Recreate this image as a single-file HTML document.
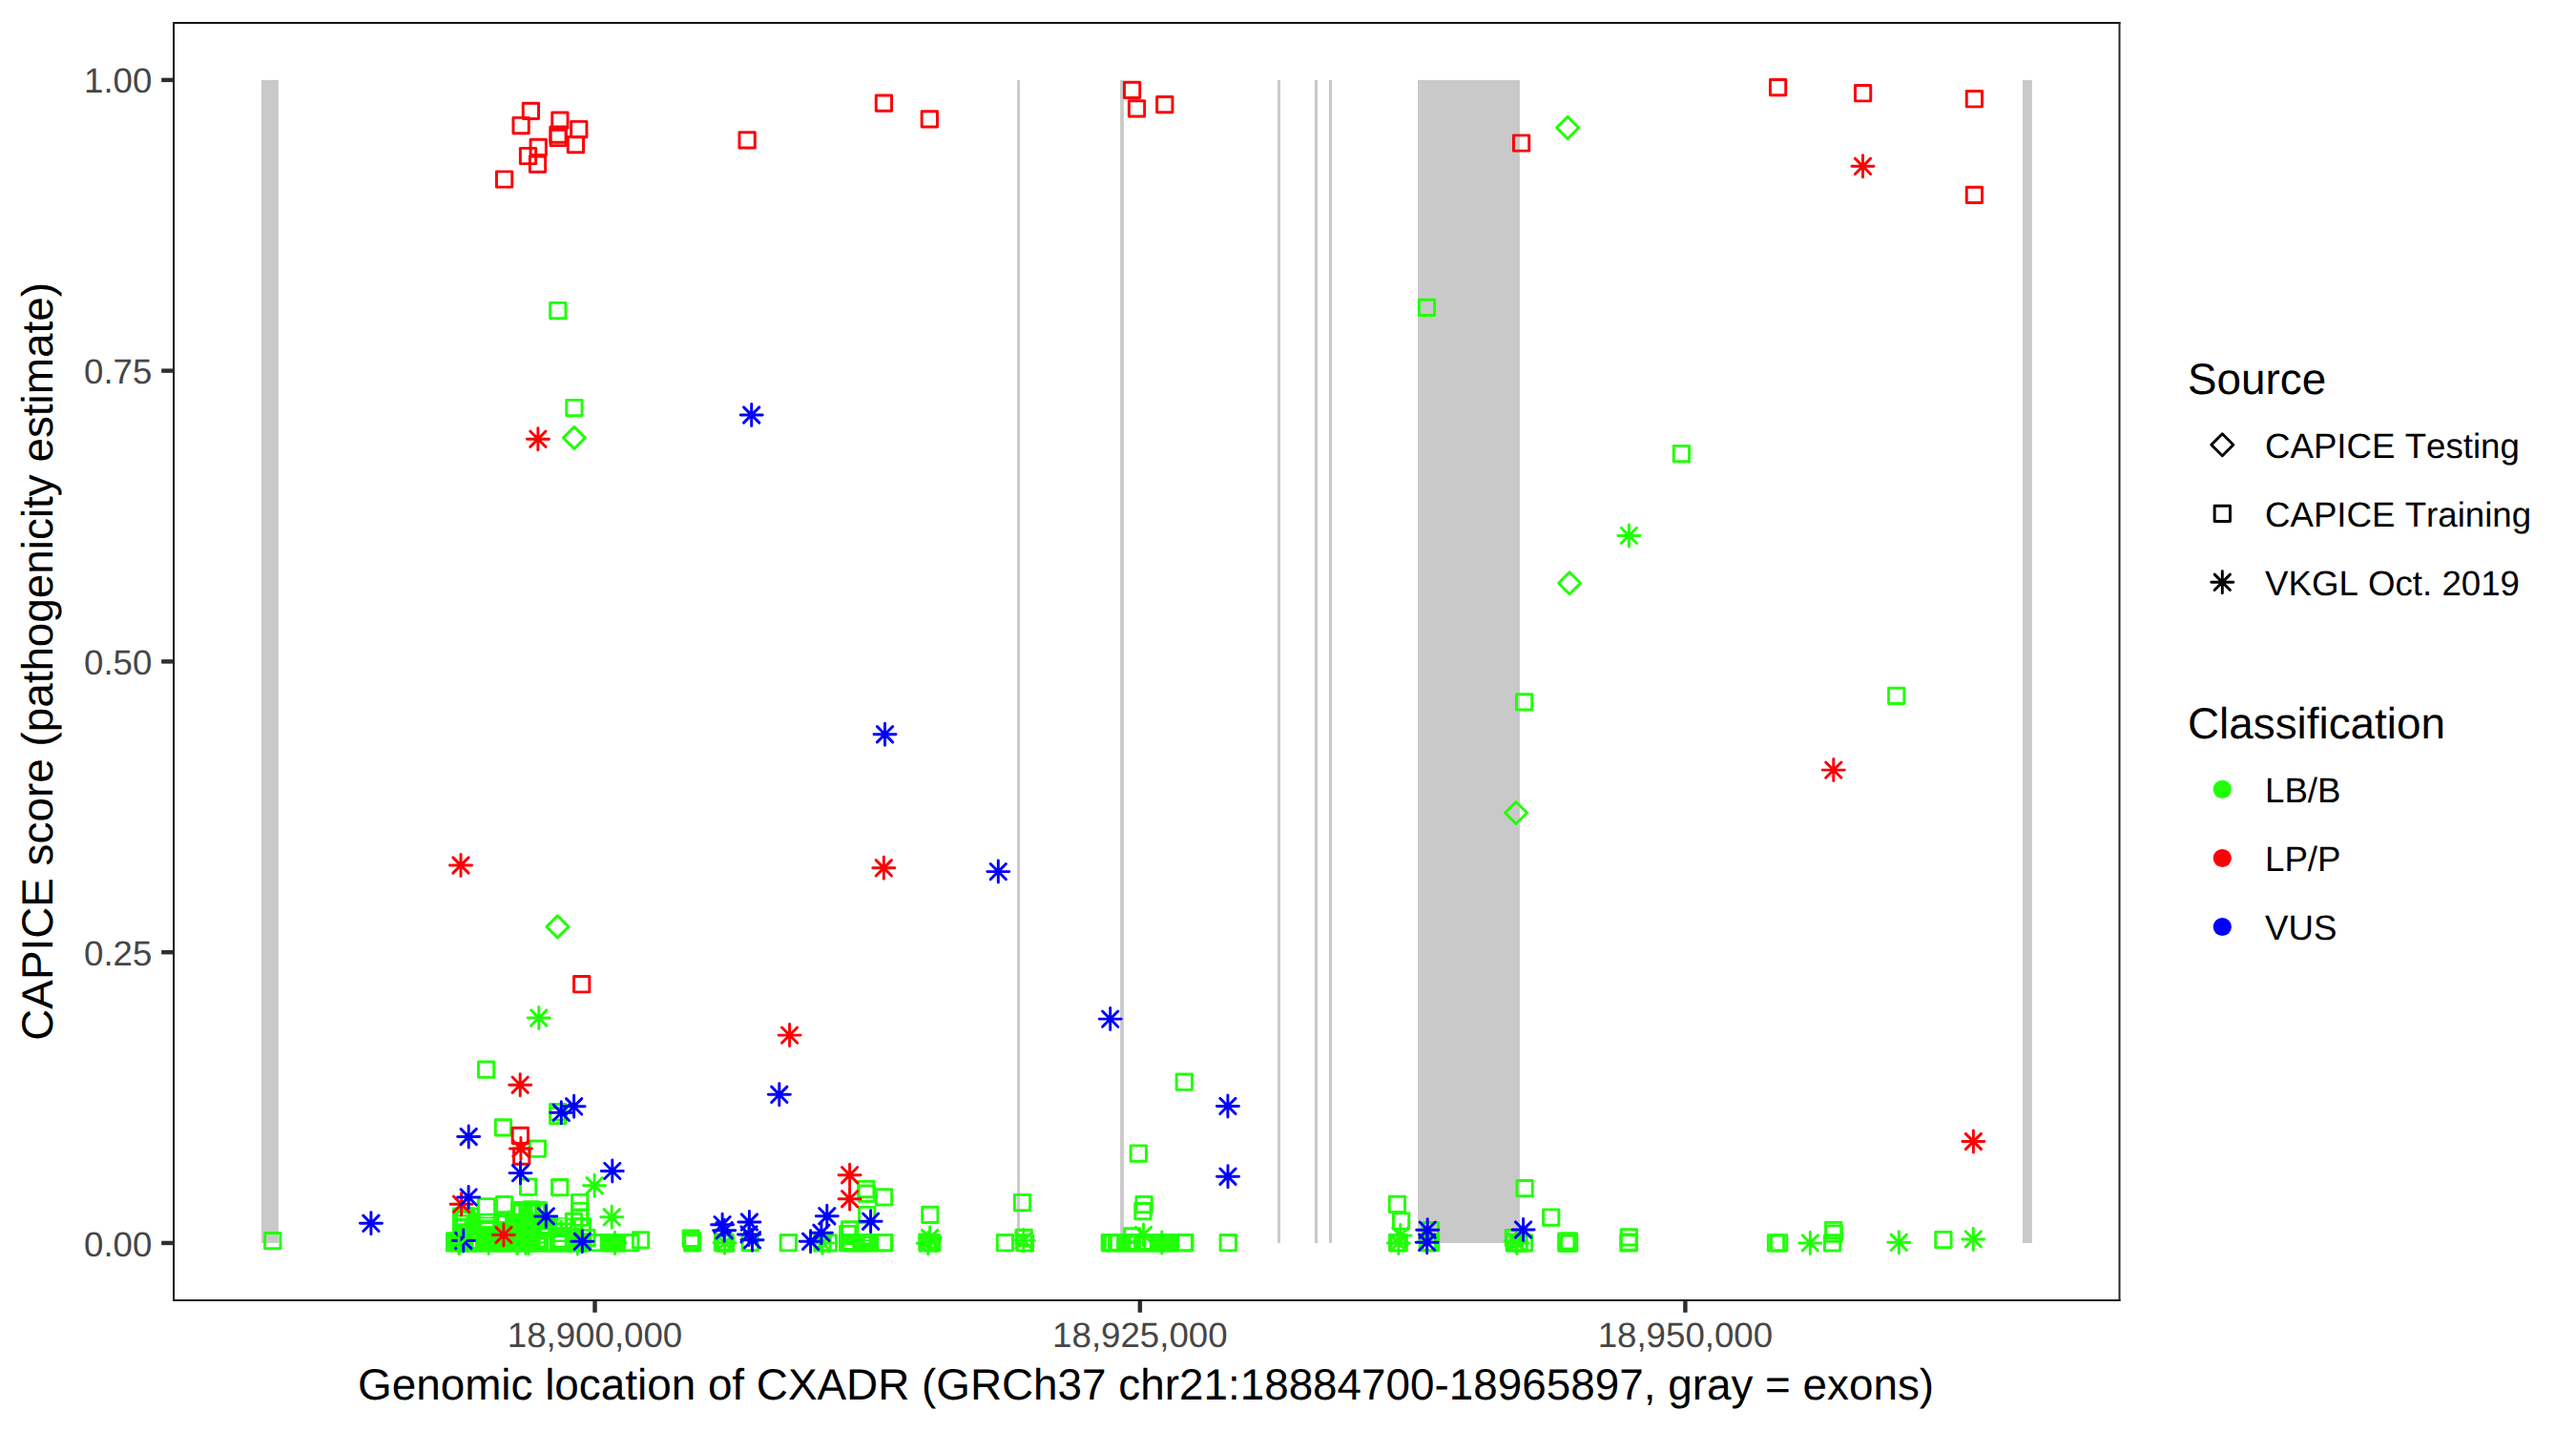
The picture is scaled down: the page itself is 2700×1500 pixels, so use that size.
<!DOCTYPE html>
<html lang="en"><head><meta charset="utf-8"><title>CAPICE score along CXADR</title>
<style>html,body{margin:0;padding:0;background:#fff}body{width:2700px;height:1500px;overflow:hidden}svg{display:block}text{font-family:"Liberation Sans",Arial,Helvetica,sans-serif;font-kerning:none;text-rendering:geometricPrecision}.tk{font-size:36.67px;fill:#464646}.ti{font-size:45.83px;fill:#000}.lg{font-size:36.67px;fill:#000}.pt{fill:none;stroke-width:2.95;stroke-linejoin:round;stroke-linecap:round}</style></head><body>
<svg width="2700" height="1500" viewBox="0 0 2700 1500">
<rect width="2700" height="1500" fill="#fff"/>
<g fill="#C9C9C9">
<rect x="274" y="83.86" width="17.9" height="1219.09"/>
<rect x="1066.05" y="83.86" width="2.9" height="1219.09"/>
<rect x="1174.1" y="83.86" width="3.8" height="1219.09"/>
<rect x="1339" y="83.86" width="3" height="1219.09"/>
<rect x="1377.9" y="83.86" width="3.15" height="1219.09"/>
<rect x="1393" y="83.86" width="3" height="1219.09"/>
<rect x="1486.05" y="83.86" width="106.9" height="1219.09"/>
<rect x="2120" y="83.86" width="9.9" height="1219.09"/>
</g>
<g fill="#21FF06">
<rect x="467" y="1291.3" width="30" height="21" rx="1.5"/>
<rect x="474" y="1266" width="22.5" height="34" rx="1.5"/>
<rect x="494" y="1272.5" width="40" height="39.8" rx="1.5"/>
<rect x="533.5" y="1261" width="14.5" height="51.3" rx="1.5"/>
<rect x="547.5" y="1258.2" width="18.5" height="54.1" rx="1.5"/>
<rect x="565.5" y="1259.6" width="8.7" height="52.7" rx="1.5"/>
<rect x="574" y="1277" width="8" height="35.3" rx="1.5"/>
<rect x="581.5" y="1286" width="16.5" height="26.3" rx="1.5"/>
<rect x="597.5" y="1292" width="20.5" height="20.3" rx="1.5"/>
<rect x="629.5" y="1293.1" width="26.6" height="19.2" rx="1.5"/>
<rect x="879.3" y="1293.1" width="41.2" height="19.2" rx="1.5"/>
<rect x="1153.8" y="1293.1" width="79.7" height="19.2" rx="1.5"/>
</g>
<g class="pt" stroke="#21FF06">
<rect x="468.46" y="1294.45" width="16.29" height="16.29"/>
<rect x="472.75" y="1294.45" width="16.29" height="16.29"/>
<rect x="477.06" y="1294.45" width="16.29" height="16.29"/>
<rect x="481.36" y="1294.45" width="16.29" height="16.29"/>
<rect x="485.66" y="1294.45" width="16.29" height="16.29"/>
<rect x="489.96" y="1294.45" width="16.29" height="16.29"/>
<rect x="494.25" y="1294.45" width="16.29" height="16.29"/>
<rect x="498.56" y="1294.45" width="16.29" height="16.29"/>
<rect x="502.86" y="1294.45" width="16.29" height="16.29"/>
<rect x="507.15" y="1294.45" width="16.29" height="16.29"/>
<rect x="511.46" y="1294.45" width="16.29" height="16.29"/>
<rect x="515.75" y="1294.45" width="16.29" height="16.29"/>
<rect x="520.06" y="1294.45" width="16.29" height="16.29"/>
<rect x="524.36" y="1294.45" width="16.29" height="16.29"/>
<rect x="528.65" y="1294.45" width="16.29" height="16.29"/>
<rect x="532.96" y="1294.45" width="16.29" height="16.29"/>
<rect x="537.25" y="1294.45" width="16.29" height="16.29"/>
<rect x="541.56" y="1294.45" width="16.29" height="16.29"/>
<rect x="545.86" y="1294.45" width="16.29" height="16.29"/>
<rect x="550.15" y="1294.45" width="16.29" height="16.29"/>
<rect x="554.46" y="1294.45" width="16.29" height="16.29"/>
<rect x="558.75" y="1294.45" width="16.29" height="16.29"/>
<rect x="563.06" y="1294.45" width="16.29" height="16.29"/>
<rect x="567.36" y="1294.45" width="16.29" height="16.29"/>
<rect x="571.65" y="1294.45" width="16.29" height="16.29"/>
<rect x="575.96" y="1294.45" width="16.29" height="16.29"/>
<rect x="580.25" y="1294.45" width="16.29" height="16.29"/>
<rect x="584.56" y="1294.45" width="16.29" height="16.29"/>
<rect x="588.86" y="1294.45" width="16.29" height="16.29"/>
<rect x="593.15" y="1294.45" width="16.29" height="16.29"/>
<rect x="597.46" y="1294.45" width="16.29" height="16.29"/>
<rect x="601.75" y="1294.45" width="16.29" height="16.29"/>
<rect x="475.46" y="1266.86" width="16.29" height="16.29"/>
<rect x="475.46" y="1272.36" width="16.29" height="16.29"/>
<rect x="475.46" y="1277.86" width="16.29" height="16.29"/>
<rect x="475.46" y="1283.36" width="16.29" height="16.29"/>
<rect x="475.46" y="1288.86" width="16.29" height="16.29"/>
<rect x="480.36" y="1266.86" width="16.29" height="16.29"/>
<rect x="480.36" y="1272.36" width="16.29" height="16.29"/>
<rect x="480.36" y="1277.86" width="16.29" height="16.29"/>
<rect x="480.36" y="1283.36" width="16.29" height="16.29"/>
<rect x="480.36" y="1288.86" width="16.29" height="16.29"/>
<rect x="484.86" y="1266.86" width="16.29" height="16.29"/>
<rect x="484.86" y="1272.36" width="16.29" height="16.29"/>
<rect x="484.86" y="1277.86" width="16.29" height="16.29"/>
<rect x="484.86" y="1283.36" width="16.29" height="16.29"/>
<rect x="484.86" y="1288.86" width="16.29" height="16.29"/>
<rect x="495.36" y="1273.36" width="16.29" height="16.29"/>
<rect x="495.36" y="1279.36" width="16.29" height="16.29"/>
<rect x="495.36" y="1285.36" width="16.29" height="16.29"/>
<rect x="495.36" y="1289.86" width="16.29" height="16.29"/>
<rect x="501.86" y="1273.36" width="16.29" height="16.29"/>
<rect x="501.86" y="1279.36" width="16.29" height="16.29"/>
<rect x="501.86" y="1285.36" width="16.29" height="16.29"/>
<rect x="501.86" y="1289.86" width="16.29" height="16.29"/>
<rect x="508.36" y="1273.36" width="16.29" height="16.29"/>
<rect x="508.36" y="1279.36" width="16.29" height="16.29"/>
<rect x="508.36" y="1285.36" width="16.29" height="16.29"/>
<rect x="508.36" y="1289.86" width="16.29" height="16.29"/>
<rect x="514.86" y="1273.36" width="16.29" height="16.29"/>
<rect x="514.86" y="1279.36" width="16.29" height="16.29"/>
<rect x="514.86" y="1285.36" width="16.29" height="16.29"/>
<rect x="514.86" y="1289.86" width="16.29" height="16.29"/>
<rect x="521.36" y="1273.36" width="16.29" height="16.29"/>
<rect x="521.36" y="1279.36" width="16.29" height="16.29"/>
<rect x="521.36" y="1285.36" width="16.29" height="16.29"/>
<rect x="521.36" y="1289.86" width="16.29" height="16.29"/>
<rect x="527.86" y="1273.36" width="16.29" height="16.29"/>
<rect x="527.86" y="1279.36" width="16.29" height="16.29"/>
<rect x="527.86" y="1285.36" width="16.29" height="16.29"/>
<rect x="527.86" y="1289.86" width="16.29" height="16.29"/>
<rect x="534.36" y="1260.65" width="16.29" height="16.29"/>
<rect x="534.36" y="1266.86" width="16.29" height="16.29"/>
<rect x="534.36" y="1272.86" width="16.29" height="16.29"/>
<rect x="534.36" y="1278.86" width="16.29" height="16.29"/>
<rect x="534.36" y="1284.86" width="16.29" height="16.29"/>
<rect x="534.36" y="1289.86" width="16.29" height="16.29"/>
<rect x="538.86" y="1260.65" width="16.29" height="16.29"/>
<rect x="538.86" y="1266.86" width="16.29" height="16.29"/>
<rect x="538.86" y="1272.86" width="16.29" height="16.29"/>
<rect x="538.86" y="1278.86" width="16.29" height="16.29"/>
<rect x="538.86" y="1284.86" width="16.29" height="16.29"/>
<rect x="538.86" y="1289.86" width="16.29" height="16.29"/>
<rect x="543.36" y="1260.65" width="16.29" height="16.29"/>
<rect x="543.36" y="1266.86" width="16.29" height="16.29"/>
<rect x="543.36" y="1272.86" width="16.29" height="16.29"/>
<rect x="543.36" y="1278.86" width="16.29" height="16.29"/>
<rect x="543.36" y="1284.86" width="16.29" height="16.29"/>
<rect x="543.36" y="1289.86" width="16.29" height="16.29"/>
<rect x="547.86" y="1260.65" width="16.29" height="16.29"/>
<rect x="547.86" y="1266.86" width="16.29" height="16.29"/>
<rect x="547.86" y="1272.86" width="16.29" height="16.29"/>
<rect x="547.86" y="1278.86" width="16.29" height="16.29"/>
<rect x="547.86" y="1284.86" width="16.29" height="16.29"/>
<rect x="547.86" y="1289.86" width="16.29" height="16.29"/>
<rect x="552.36" y="1260.65" width="16.29" height="16.29"/>
<rect x="552.36" y="1266.86" width="16.29" height="16.29"/>
<rect x="552.36" y="1272.86" width="16.29" height="16.29"/>
<rect x="552.36" y="1278.86" width="16.29" height="16.29"/>
<rect x="552.36" y="1284.86" width="16.29" height="16.29"/>
<rect x="552.36" y="1289.86" width="16.29" height="16.29"/>
<rect x="556.36" y="1260.65" width="16.29" height="16.29"/>
<rect x="556.36" y="1266.86" width="16.29" height="16.29"/>
<rect x="556.36" y="1272.86" width="16.29" height="16.29"/>
<rect x="556.36" y="1278.86" width="16.29" height="16.29"/>
<rect x="556.36" y="1284.86" width="16.29" height="16.29"/>
<rect x="556.36" y="1289.86" width="16.29" height="16.29"/>
<rect x="556.36" y="1261.86" width="16.29" height="16.29"/>
<rect x="556.36" y="1268.86" width="16.29" height="16.29"/>
<rect x="560.86" y="1278.86" width="16.29" height="16.29"/>
<rect x="560.86" y="1283.86" width="16.29" height="16.29"/>
<rect x="560.86" y="1288.86" width="16.29" height="16.29"/>
<rect x="565.86" y="1278.86" width="16.29" height="16.29"/>
<rect x="565.86" y="1283.86" width="16.29" height="16.29"/>
<rect x="565.86" y="1288.86" width="16.29" height="16.29"/>
<rect x="571.86" y="1277.86" width="16.29" height="16.29"/>
<rect x="571.86" y="1282.86" width="16.29" height="16.29"/>
<rect x="571.86" y="1288.36" width="16.29" height="16.29"/>
<rect x="577.36" y="1277.86" width="16.29" height="16.29"/>
<rect x="577.36" y="1282.86" width="16.29" height="16.29"/>
<rect x="577.36" y="1288.36" width="16.29" height="16.29"/>
<rect x="582.36" y="1277.86" width="16.29" height="16.29"/>
<rect x="582.36" y="1282.86" width="16.29" height="16.29"/>
<rect x="582.36" y="1288.36" width="16.29" height="16.29"/>
<rect x="587.86" y="1287.86" width="16.29" height="16.29"/>
<rect x="592.36" y="1288.86" width="16.29" height="16.29"/>
<rect x="606.86" y="1289.36" width="16.29" height="16.29"/>
<rect x="618.96" y="1294.56" width="16.29" height="16.29"/>
<rect x="630.15" y="1294.56" width="16.29" height="16.29"/>
<rect x="634.86" y="1294.56" width="16.29" height="16.29"/>
<rect x="638.36" y="1294.56" width="16.29" height="16.29"/>
<rect x="652.65" y="1294.56" width="16.29" height="16.29"/>
<rect x="716.06" y="1290.06" width="16.29" height="16.29"/>
<rect x="717.15" y="1292.36" width="16.29" height="16.29"/>
<rect x="717.65" y="1294.65" width="16.29" height="16.29"/>
<rect x="749.36" y="1294.56" width="16.29" height="16.29"/>
<rect x="751.36" y="1293.86" width="16.29" height="16.29"/>
<rect x="752.36" y="1295.06" width="16.29" height="16.29"/>
<rect x="778.06" y="1294.36" width="16.29" height="16.29"/>
<rect x="818.15" y="1294.56" width="16.29" height="16.29"/>
<rect x="853.96" y="1294.76" width="16.29" height="16.29"/>
<rect x="860.25" y="1294.76" width="16.29" height="16.29"/>
<rect x="880.56" y="1294.56" width="16.29" height="16.29"/>
<rect x="886.86" y="1294.56" width="16.29" height="16.29"/>
<rect x="893.06" y="1294.56" width="16.29" height="16.29"/>
<rect x="899.36" y="1294.56" width="16.29" height="16.29"/>
<rect x="903.36" y="1294.56" width="16.29" height="16.29"/>
<rect x="918.15" y="1294.56" width="16.29" height="16.29"/>
<rect x="918.75" y="1294.56" width="16.29" height="16.29"/>
<rect x="963.75" y="1293.86" width="16.29" height="16.29"/>
<rect x="966.36" y="1294.45" width="16.29" height="16.29"/>
<rect x="968.46" y="1294.76" width="16.29" height="16.29"/>
<rect x="1045.26" y="1294.56" width="16.29" height="16.29"/>
<rect x="1065.06" y="1289.26" width="16.29" height="16.29"/>
<rect x="1066.26" y="1294.76" width="16.29" height="16.29"/>
<rect x="1155.26" y="1294.56" width="16.29" height="16.29"/>
<rect x="1160.36" y="1294.56" width="16.29" height="16.29"/>
<rect x="1166.36" y="1294.56" width="16.29" height="16.29"/>
<rect x="1172.86" y="1294.56" width="16.29" height="16.29"/>
<rect x="1178.86" y="1294.56" width="16.29" height="16.29"/>
<rect x="1183.86" y="1294.56" width="16.29" height="16.29"/>
<rect x="1188.86" y="1294.56" width="16.29" height="16.29"/>
<rect x="1194.86" y="1294.56" width="16.29" height="16.29"/>
<rect x="1200.86" y="1294.56" width="16.29" height="16.29"/>
<rect x="1206.86" y="1294.56" width="16.29" height="16.29"/>
<rect x="1212.86" y="1294.56" width="16.29" height="16.29"/>
<rect x="1218.36" y="1294.56" width="16.29" height="16.29"/>
<rect x="1233.06" y="1294.56" width="16.29" height="16.29"/>
<rect x="1233.76" y="1294.56" width="16.29" height="16.29"/>
<rect x="1279.15" y="1294.56" width="16.29" height="16.29"/>
<rect x="1456.56" y="1294.56" width="16.29" height="16.29"/>
<rect x="1458.06" y="1294.56" width="16.29" height="16.29"/>
<rect x="1488.26" y="1294.36" width="16.29" height="16.29"/>
<rect x="1491.36" y="1294.36" width="16.29" height="16.29"/>
<rect x="1578.36" y="1289.36" width="16.29" height="16.29"/>
<rect x="1579.06" y="1294.76" width="16.29" height="16.29"/>
<rect x="1583.86" y="1294.76" width="16.29" height="16.29"/>
<rect x="1589.36" y="1294.76" width="16.29" height="16.29"/>
<rect x="1633.86" y="1292.86" width="16.29" height="16.29"/>
<rect x="1636.36" y="1292.86" width="16.29" height="16.29"/>
<rect x="1633.86" y="1294.95" width="16.29" height="16.29"/>
<rect x="1636.36" y="1294.95" width="16.29" height="16.29"/>
<rect x="1698.86" y="1293.95" width="16.29" height="16.29"/>
<rect x="1699.06" y="1294.76" width="16.29" height="16.29"/>
<rect x="1853.36" y="1294.76" width="16.29" height="16.29"/>
<rect x="1856.45" y="1294.76" width="16.29" height="16.29"/>
<rect x="1912.45" y="1294.65" width="16.29" height="16.29"/>
<rect x="576.65" y="317.36" width="16.29" height="16.29"/>
<rect x="593.75" y="419.36" width="16.29" height="16.29"/>
<rect x="1487.36" y="314.25" width="16.29" height="16.29"/>
<rect x="1754.26" y="467.36" width="16.29" height="16.29"/>
<rect x="1589.45" y="727.75" width="16.29" height="16.29"/>
<rect x="1979.56" y="721.15" width="16.29" height="16.29"/>
<rect x="501.46" y="1112.95" width="16.29" height="16.29"/>
<rect x="576.56" y="1157.56" width="16.29" height="16.29"/>
<rect x="576.56" y="1161.36" width="16.29" height="16.29"/>
<rect x="519.25" y="1173.65" width="16.29" height="16.29"/>
<rect x="555.25" y="1196.06" width="16.29" height="16.29"/>
<rect x="545.46" y="1236.06" width="16.29" height="16.29"/>
<rect x="578.56" y="1236.45" width="16.29" height="16.29"/>
<rect x="599.56" y="1252.36" width="16.29" height="16.29"/>
<rect x="599.56" y="1261.36" width="16.29" height="16.29"/>
<rect x="599.56" y="1267.86" width="16.29" height="16.29"/>
<rect x="593.36" y="1272.26" width="16.29" height="16.29"/>
<rect x="602.25" y="1277.65" width="16.29" height="16.29"/>
<rect x="520.46" y="1254.45" width="16.29" height="16.29"/>
<rect x="501.36" y="1256.65" width="16.29" height="16.29"/>
<rect x="899.65" y="1238.36" width="16.29" height="16.29"/>
<rect x="900.15" y="1243.06" width="16.29" height="16.29"/>
<rect x="918.36" y="1246.76" width="16.29" height="16.29"/>
<rect x="900.56" y="1265.36" width="16.29" height="16.29"/>
<rect x="882.56" y="1280.65" width="16.29" height="16.29"/>
<rect x="880.56" y="1285.36" width="16.29" height="16.29"/>
<rect x="966.65" y="1265.26" width="16.29" height="16.29"/>
<rect x="1063.36" y="1252.36" width="16.29" height="16.29"/>
<rect x="1190.95" y="1254.45" width="16.29" height="16.29"/>
<rect x="1189.76" y="1261.45" width="16.29" height="16.29"/>
<rect x="1178.76" y="1287.65" width="16.29" height="16.29"/>
<rect x="1233.15" y="1126.06" width="16.29" height="16.29"/>
<rect x="1185.15" y="1200.86" width="16.29" height="16.29"/>
<rect x="1456.26" y="1254.26" width="16.29" height="16.29"/>
<rect x="1460.45" y="1271.86" width="16.29" height="16.29"/>
<rect x="1491.36" y="1281.45" width="16.29" height="16.29"/>
<rect x="1589.95" y="1237.45" width="16.29" height="16.29"/>
<rect x="1617.56" y="1267.86" width="16.29" height="16.29"/>
<rect x="1699.26" y="1288.76" width="16.29" height="16.29"/>
<rect x="1913.56" y="1281.36" width="16.29" height="16.29"/>
<rect x="1914.15" y="1284.86" width="16.29" height="16.29"/>
<rect x="2028.76" y="1291.36" width="16.29" height="16.29"/>
<rect x="277.66" y="1292.45" width="16.29" height="16.29"/>
<rect x="663.36" y="1291.65" width="16.29" height="16.29"/>
</g>
<g fill="#fff">
<rect x="504" y="1258.2" width="13.1" height="13.2"/>
<rect x="522.2" y="1256" width="12.8" height="12.6"/>
<rect x="480" y="1272" width="10" height="1"/>
<rect x="480" y="1275.6" width="8.5" height="1.2"/>
<rect x="480" y="1280.4" width="6.5" height="1.9"/>
<rect x="503.8" y="1274.3" width="13" height="1.2"/>
<rect x="503.8" y="1277.4" width="13" height="1.2"/>
<rect x="505" y="1283.2" width="11" height="1.9"/>
<rect x="523" y="1276" width="6" height="4"/>
<rect x="540.2" y="1264.6" width="3.2" height="6.9"/>
<rect x="558.5" y="1264.6" width="1.5" height="6.9"/>
<rect x="567.5" y="1263.2" width="1.3" height="8.3"/>
<rect x="496.3" y="1294" width="1.7" height="13"/>
<rect x="585.5" y="1277.5" width="6.5" height="1.5"/>
<rect x="568" y="1289.6" width="6.3" height="1.2"/>
<rect x="566.8" y="1299.5" width="3.2" height="1.7"/>
<rect x="566.8" y="1303.3" width="3.2" height="2.2"/>
<rect x="581.7" y="1297" width="10" height="2.5"/>
<rect x="581.7" y="1302" width="10" height="3.7"/>
<rect x="575.2" y="1296.5" width="0.6" height="13.5"/>
<rect x="884" y="1287.8" width="3" height="3.7"/>
<rect x="885.6" y="1305" width="7.8" height="3"/>
<rect x="906.8" y="1297.9" width="3.8" height="1.5"/>
<rect x="906.8" y="1301" width="3.8" height="1.5"/>
<rect x="1159.9" y="1296.5" width="1.2" height="12.5"/>
<rect x="1165.8" y="1296.3" width="4.3" height="12.7"/>
<rect x="1185.4" y="1297" width="2.7" height="3.1"/>
<rect x="1185.4" y="1304.1" width="2.7" height="3.9"/>
<rect x="1196.3" y="1297.8" width="2" height="10.2"/>
<rect x="1201.4" y="1297.8" width="3.5" height="10.2"/>
</g>
<g class="pt" stroke="#FB0207">
<rect x="548.25" y="108.16" width="16.29" height="16.29"/>
<rect x="537.96" y="123.36" width="16.29" height="16.29"/>
<rect x="578.75" y="117.95" width="16.29" height="16.29"/>
<rect x="598.65" y="127.36" width="16.29" height="16.29"/>
<rect x="576.86" y="133.05" width="16.29" height="16.29"/>
<rect x="577.06" y="136.35" width="16.29" height="16.29"/>
<rect x="595.25" y="143.55" width="16.29" height="16.29"/>
<rect x="556.06" y="146.25" width="16.29" height="16.29"/>
<rect x="545.36" y="155.35" width="16.29" height="16.29"/>
<rect x="555.36" y="163.95" width="16.29" height="16.29"/>
<rect x="520.46" y="179.85" width="16.29" height="16.29"/>
<rect x="774.96" y="138.66" width="16.29" height="16.29"/>
<rect x="918.25" y="99.95" width="16.29" height="16.29"/>
<rect x="966.15" y="116.66" width="16.29" height="16.29"/>
<rect x="1178.45" y="86.16" width="16.29" height="16.29"/>
<rect x="1183.36" y="105.76" width="16.29" height="16.29"/>
<rect x="1212.65" y="101.41" width="16.29" height="16.29"/>
<rect x="1586.45" y="141.85" width="16.29" height="16.29"/>
<rect x="1855.45" y="83.45" width="16.29" height="16.29"/>
<rect x="1944.45" y="89.56" width="16.29" height="16.29"/>
<rect x="2061.26" y="95.56" width="16.29" height="16.29"/>
<rect x="2061.26" y="196.25" width="16.29" height="16.29"/>
<rect x="601.56" y="1023.56" width="16.29" height="16.29"/>
<rect x="537.15" y="1182.15" width="16.29" height="16.29"/>
<rect x="538.56" y="1203.86" width="16.29" height="16.29"/>
</g>
<g class="pt" stroke="#21FF06">
<path d="M1631.69 133.9L1643.2 122.39L1654.71 133.9L1643.2 145.41Z"/>
<path d="M590.39 458.9L601.9 447.39L613.41 458.9L601.9 470.41Z"/>
<path d="M1633.59 611.2L1645.1 599.69L1656.61 611.2L1645.1 622.71Z"/>
<path d="M1577.49 852L1589 840.49L1600.51 852L1589 863.51Z"/>
<path d="M572.89 971.4L584.4 959.89L595.91 971.4L584.4 982.91Z"/>
<path d="M1695.89 561.4H1718.91M1707.4 549.89V572.91M1699.26 553.26L1715.54 569.54M1699.26 569.54L1715.54 553.26"/>
<path d="M553.29 1067H576.31M564.8 1055.49V1078.51M556.66 1058.86L572.94 1075.14M556.66 1075.14L572.94 1058.86"/>
<path d="M611.59 1242.7H634.61M623.1 1231.19V1254.21M614.96 1234.56L631.24 1250.84M614.96 1250.84L631.24 1234.56"/>
<path d="M629.69 1275.8H652.71M641.2 1264.29V1287.31M633.06 1267.66L649.34 1283.94M633.06 1283.94L649.34 1267.66"/>
<path d="M469.59 1302.9H492.61M481.1 1291.39V1314.41M472.96 1294.76L489.24 1311.04M472.96 1311.04L489.24 1294.76"/>
<path d="M500.59 1302.9H523.61M512.1 1291.39V1314.41M503.96 1294.76L520.24 1311.04M503.96 1311.04L520.24 1294.76"/>
<path d="M530.69 1302.9H553.71M542.2 1291.39V1314.41M534.06 1294.76L550.34 1311.04M534.06 1311.04L550.34 1294.76"/>
<path d="M539.29 1302.9H562.31M550.8 1291.39V1314.41M542.66 1294.76L558.94 1311.04M542.66 1311.04L558.94 1294.76"/>
<path d="M542.39 1302.9H565.41M553.9 1291.39V1314.41M545.76 1294.76L562.04 1311.04M545.76 1311.04L562.04 1294.76"/>
<path d="M593.69 1303.5H616.71M605.2 1291.99V1315.01M597.06 1295.36L613.34 1311.64M597.06 1311.64L613.34 1295.36"/>
<path d="M632.99 1302.9H656.01M644.5 1291.39V1314.41M636.36 1294.76L652.64 1311.04M636.36 1311.04L652.64 1294.76"/>
<path d="M748.09 1302.7H771.11M759.6 1291.19V1314.21M751.46 1294.56L767.74 1310.84M751.46 1310.84L767.74 1294.56"/>
<path d="M850.59 1302.9H873.61M862.1 1291.39V1314.41M853.96 1294.76L870.24 1311.04M853.96 1311.04L870.24 1294.76"/>
<path d="M963.09 1297.5H986.11M974.6 1285.99V1309.01M966.46 1289.36L982.74 1305.64M966.46 1305.64L982.74 1289.36"/>
<path d="M961.19 1303.3H984.21M972.7 1291.79V1314.81M964.56 1295.16L980.84 1311.44M964.56 1311.44L980.84 1295.16"/>
<path d="M1061.29 1300.1H1084.31M1072.8 1288.59V1311.61M1064.66 1291.96L1080.94 1308.24M1064.66 1308.24L1080.94 1291.96"/>
<path d="M1186.99 1294.4H1210.01M1198.5 1282.89V1305.91M1190.36 1286.26L1206.64 1302.54M1190.36 1302.54L1206.64 1286.26"/>
<path d="M1206.29 1302.5H1229.31M1217.8 1290.99V1314.01M1209.66 1294.36L1225.94 1310.64M1209.66 1310.64L1225.94 1294.36"/>
<path d="M1456.29 1295.1H1479.31M1467.8 1283.59V1306.61M1459.66 1286.96L1475.94 1303.24M1459.66 1303.24L1475.94 1286.96"/>
<path d="M1454.29 1302.9H1477.31M1465.8 1291.39V1314.41M1457.66 1294.76L1473.94 1311.04M1457.66 1311.04L1473.94 1294.76"/>
<path d="M1577.29 1300.9H1600.31M1588.8 1289.39V1312.41M1580.66 1292.76L1596.94 1309.04M1580.66 1309.04L1596.94 1292.76"/>
<path d="M1578.49 1303H1601.51M1590 1291.49V1314.51M1581.86 1294.86L1598.14 1311.14M1581.86 1311.14L1598.14 1294.86"/>
<path d="M1885.79 1302.9H1908.81M1897.3 1291.39V1314.41M1889.16 1294.76L1905.44 1311.04M1889.16 1311.04L1905.44 1294.76"/>
<path d="M1978.79 1302.3H2001.81M1990.3 1290.79V1313.81M1982.16 1294.16L1998.44 1310.44M1982.16 1310.44L1998.44 1294.16"/>
<path d="M2056.79 1298.9H2079.81M2068.3 1287.39V1310.41M2060.16 1290.76L2076.44 1307.04M2060.16 1307.04L2076.44 1290.76"/>
</g>
<g class="pt" stroke="#FB0207">
<path d="M1940.99 174.3H1964.01M1952.5 162.79V185.81M1944.36 166.16L1960.64 182.44M1944.36 182.44L1960.64 166.16"/>
<path d="M552.39 460.2H575.41M563.9 448.69V471.71M555.76 452.06L572.04 468.34M555.76 468.34L572.04 452.06"/>
<path d="M1910.29 807.1H1933.31M1921.8 795.59V818.61M1913.66 798.96L1929.94 815.24M1913.66 815.24L1929.94 798.96"/>
<path d="M471.49 907H494.51M483 895.49V918.51M474.86 898.86L491.14 915.14M474.86 915.14L491.14 898.86"/>
<path d="M914.79 909.8H937.81M926.3 898.29V921.31M918.16 901.66L934.44 917.94M918.16 917.94L934.44 901.66"/>
<path d="M816.09 1085.1H839.11M827.6 1073.59V1096.61M819.46 1076.96L835.74 1093.24M819.46 1093.24L835.74 1076.96"/>
<path d="M533.69 1137.2H556.71M545.2 1125.69V1148.71M537.06 1129.06L553.34 1145.34M537.06 1145.34L553.34 1129.06"/>
<path d="M534.39 1204H557.41M545.9 1192.49V1215.51M537.76 1195.86L554.04 1212.14M537.76 1212.14L554.04 1195.86"/>
<path d="M472.09 1262.3H495.11M483.6 1250.79V1273.81M475.46 1254.16L491.74 1270.44M475.46 1270.44L491.74 1254.16"/>
<path d="M516.39 1294.5H539.41M527.9 1282.99V1306.01M519.76 1286.36L536.04 1302.64M519.76 1302.64L536.04 1286.36"/>
<path d="M879.09 1231.7H902.11M890.6 1220.19V1243.21M882.46 1223.56L898.74 1239.84M882.46 1239.84L898.74 1223.56"/>
<path d="M879.09 1256.7H902.11M890.6 1245.19V1268.21M882.46 1248.56L898.74 1264.84M882.46 1264.84L898.74 1248.56"/>
<path d="M2056.89 1196.5H2079.91M2068.4 1184.99V1208.01M2060.26 1188.36L2076.54 1204.64M2060.26 1204.64L2076.54 1188.36"/>
</g>
<g class="pt" stroke="#0000FF">
<path d="M776.19 435H799.21M787.7 423.49V446.51M779.56 426.86L795.84 443.14M779.56 443.14L795.84 426.86"/>
<path d="M915.99 769.7H939.01M927.5 758.19V781.21M919.36 761.56L935.64 777.84M919.36 777.84L935.64 761.56"/>
<path d="M1034.79 913.6H1057.81M1046.3 902.09V925.11M1038.16 905.46L1054.44 921.74M1038.16 921.74L1054.44 905.46"/>
<path d="M576.79 1166.3H599.81M588.3 1154.79V1177.81M580.16 1158.16L596.44 1174.44M580.16 1174.44L596.44 1158.16"/>
<path d="M590.09 1159.8H613.11M601.6 1148.29V1171.31M593.46 1151.66L609.74 1167.94M593.46 1167.94L609.74 1151.66"/>
<path d="M479.69 1191.5H502.71M491.2 1179.99V1203.01M483.06 1183.36L499.34 1199.64M483.06 1199.64L499.34 1183.36"/>
<path d="M533.99 1229.6H557.01M545.5 1218.09V1241.11M537.36 1221.46L553.64 1237.74M537.36 1237.74L553.64 1221.46"/>
<path d="M630.29 1227.4H653.31M641.8 1215.89V1238.91M633.66 1219.26L649.94 1235.54M633.66 1235.54L649.94 1219.26"/>
<path d="M479.59 1254.9H502.61M491.1 1243.39V1266.41M482.96 1246.76L499.24 1263.04M482.96 1263.04L499.24 1246.76"/>
<path d="M560.79 1274.9H583.81M572.3 1263.39V1286.41M564.16 1266.76L580.44 1283.04M564.16 1283.04L580.44 1266.76"/>
<path d="M598.79 1301.3H621.81M610.3 1289.79V1312.81M602.16 1293.16L618.44 1309.44M602.16 1309.44L618.44 1293.16"/>
<path d="M377.39 1282.3H400.41M388.9 1270.79V1293.81M380.76 1274.16L397.04 1290.44M380.76 1290.44L397.04 1274.16"/>
<path d="M745.59 1283.7H768.61M757.1 1272.19V1295.21M748.96 1275.56L765.24 1291.84M748.96 1291.84L765.24 1275.56"/>
<path d="M747.69 1289.8H770.71M759.2 1278.29V1301.31M751.06 1281.66L767.34 1297.94M751.06 1297.94L767.34 1281.66"/>
<path d="M773.89 1281H796.91M785.4 1269.49V1292.51M777.26 1272.86L793.54 1289.14M777.26 1289.14L793.54 1272.86"/>
<path d="M773.49 1293.9H796.51M785 1282.39V1305.41M776.86 1285.76L793.14 1302.04M776.86 1302.04L793.14 1285.76"/>
<path d="M776.99 1299.8H800.01M788.5 1288.29V1311.31M780.36 1291.66L796.64 1307.94M780.36 1307.94L796.64 1291.66"/>
<path d="M838.09 1301.3H861.11M849.6 1289.79V1312.81M841.46 1293.16L857.74 1309.44M841.46 1309.44L857.74 1293.16"/>
<path d="M855.29 1274.7H878.31M866.8 1263.19V1286.21M858.66 1266.56L874.94 1282.84M858.66 1282.84L874.94 1266.56"/>
<path d="M849.39 1292.3H872.41M860.9 1280.79V1303.81M852.76 1284.16L869.04 1300.44M852.76 1300.44L869.04 1284.16"/>
<path d="M901.09 1280.2H924.11M912.6 1268.69V1291.71M904.46 1272.06L920.74 1288.34M904.46 1288.34L920.74 1272.06"/>
<path d="M805.29 1147.3H828.31M816.8 1135.79V1158.81M808.66 1139.16L824.94 1155.44M808.66 1155.44L824.94 1139.16"/>
<path d="M1152.19 1068.1H1175.21M1163.7 1056.59V1079.61M1155.56 1059.96L1171.84 1076.24M1155.56 1076.24L1171.84 1059.96"/>
<path d="M1275.39 1159.4H1298.41M1286.9 1147.89V1170.91M1278.76 1151.26L1295.04 1167.54M1278.76 1167.54L1295.04 1151.26"/>
<path d="M1275.49 1233.2H1298.51M1287 1221.69V1244.71M1278.86 1225.06L1295.14 1241.34M1278.86 1241.34L1295.14 1225.06"/>
<path d="M1484.69 1289.2H1507.71M1496.2 1277.69V1300.71M1488.06 1281.06L1504.34 1297.34M1488.06 1297.34L1504.34 1281.06"/>
<path d="M1484.19 1302.3H1507.21M1495.7 1290.79V1313.81M1487.56 1294.16L1503.84 1310.44M1487.56 1310.44L1503.84 1294.16"/>
<path d="M1585.09 1289H1608.11M1596.6 1277.49V1300.51M1588.46 1280.86L1604.74 1297.14M1588.46 1297.14L1604.74 1280.86"/>
</g>
<g class="pt" stroke="#0000FF"><path d="M474.29 1300.5H497.31M485.8 1288.99V1312.01M477.66 1292.36L493.94 1308.64M477.66 1308.64L493.94 1292.36"/></g>
<rect x="487.4" y="1288.2" width="10.4" height="10.9" fill="#21FF06"/>
<path class="pt" stroke="#21FF06" d="M479.6 1306.6L490.4 1296.2M481.1 1291.4V1314.4"/>
<g fill="none" stroke-width="2.0" stroke-linecap="square">
<path stroke="#161616" d="M2221.5 23.9H182.1V1362.9H2221.5"/>
<path stroke="#262626" d="M2221.5 23.9V1362.9"/>
</g>
<g stroke="#2E2E2E" stroke-width="4.45">
<line x1="169.2" x2="181.1" y1="1302.95" y2="1302.95"/>
<line x1="169.2" x2="181.1" y1="998.18" y2="998.18"/>
<line x1="169.2" x2="181.1" y1="693.41" y2="693.41"/>
<line x1="169.2" x2="181.1" y1="388.63" y2="388.63"/>
<line x1="169.2" x2="181.1" y1="83.86" y2="83.86"/>
<line x1="623.5" x2="623.5" y1="1363.9" y2="1375.8"/>
<line x1="1194.85" x2="1194.85" y1="1363.9" y2="1375.8"/>
<line x1="1766.4" x2="1766.4" y1="1363.9" y2="1375.8"/>
</g>
<g class="tk" text-anchor="end">
<text x="159.4" y="1316.55">0.00</text>
<text x="159.4" y="1011.78">0.25</text>
<text x="159.4" y="707.01">0.50</text>
<text x="159.4" y="402.23">0.75</text>
<text x="159.4" y="97.46">1.00</text>
</g>
<g class="tk" text-anchor="middle">
<text x="623.5" y="1411.8">18,900,000</text>
<text x="1194.85" y="1411.8">18,925,000</text>
<text x="1766.4" y="1411.8">18,950,000</text>
</g>
<text class="ti" text-anchor="middle" x="1201.1" y="1466.9">Genomic location of CXADR (GRCh37 chr21:18884700-18965897, gray = exons)</text>
<text class="ti" text-anchor="middle" transform="translate(54.5 693.4) rotate(-90)">CAPICE score (pathogenicity estimate)</text>
<text class="ti" x="2293.0" y="412.8">Source</text>
<g class="pt" stroke="#000">
<path d="M2317.79 466.3L2329.3 454.79L2340.81 466.3L2329.3 477.81Z"/>
<rect x="2321.16" y="530.15" width="16.29" height="16.29"/>
<path d="M2317.79 610.3H2340.81M2329.3 598.79V621.81M2321.16 602.16L2337.44 618.44M2321.16 618.44L2337.44 602.16"/>
</g>
<g class="lg">
<text x="2374.0" y="479.6">CAPICE Testing</text>
<text x="2374.0" y="551.6">CAPICE Training</text>
<text x="2374.0" y="623.6">VKGL Oct. 2019</text>
</g>
<text class="ti" x="2293.0" y="773.9">Classification</text>
<circle cx="2329.3" cy="827.4" r="9.6" fill="#21FF06"/>
<circle cx="2329.3" cy="899.5" r="9.6" fill="#FB0207"/>
<circle cx="2329.3" cy="971.5" r="9.6" fill="#0000FF"/>
<g class="lg">
<text x="2374.0" y="840.6">LB/B</text>
<text x="2374.0" y="912.7">LP/P</text>
<text x="2374.0" y="984.7">VUS</text>
</g>
</svg></body></html>
